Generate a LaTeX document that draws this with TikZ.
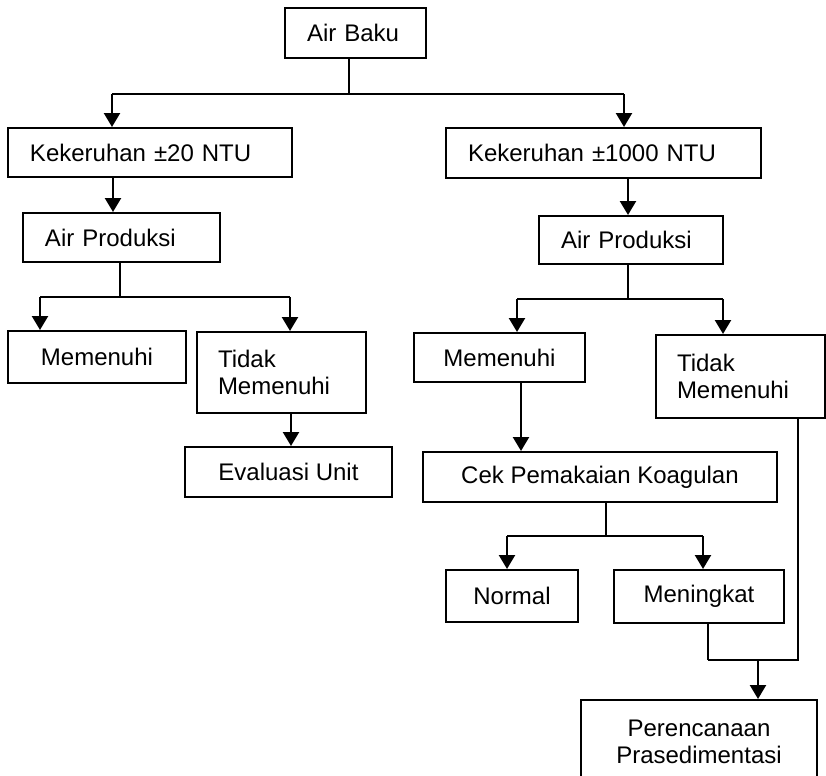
\documentclass[tikz,border=0pt]{standalone}
\usepackage{fontspec}
\setmainfont{Liberation Sans}
\usetikzlibrary{positioning, arrows.meta, calc}

\begin{document}
\begin{tikzpicture}[x=0.5pt, y=-0.5pt,
	box/.style={draw, line width=1pt, font=\fontsize{12}{13.8}\selectfont, inner ysep=0pt},
	lbox/.style={box, align=left, inner xsep=11pt},
	cbox/.style={box, align=center, inner xsep=0pt},
	link/.style={line width=0.6pt},
	flow/.style={line width=1.2pt, -{Triangle[length=7pt, width=8pt]}}]
		
		%Frame
		\useasboundingbox (0,0) rectangle (826,776);
		\clip (0,0) rectangle (826,776);
		
		%Raw water
		\node (airBaku) at(355.5,33) [lbox, text width=48.5pt, minimum height=25pt]{Air Baku};
		
		%Turbidity
		\node (kekA) at(150,152.5) [lbox, text width=120pt, minimum height=24.5pt]{Kekeruhan ±20 NTU};
		\node (kekB) at(603.5,153) [lbox, text width=135.5pt, minimum height=25pt]{Kekeruhan ±1000 NTU};
		
		%Product water
		\node (prodA) at(121.5,237.5) [lbox, text width=76.5pt, minimum height=24.5pt]{Air Produksi};
		\node (prodB) at(631,240) [lbox, text width=70pt, minimum height=24pt]{Air Produksi};
		
		%Left results
		\node (okA) at(97,357) [cbox, minimum width=89pt, minimum height=26pt]{Memenuhi};
		\node (notA) at(281.5,372.5) [lbox, inner xsep=10.5pt, text width=63.5pt, minimum height=40.5pt]{Tidak\\Memenuhi};
		\node (evalA) at(288.5,472) [cbox, minimum width=103.5pt, minimum height=25pt]{Evaluasi Unit};
		
		%Right results
		\node (okB) at(499.5,357.5) [cbox, minimum width=85.5pt, minimum height=24.5pt]{Memenuhi};
		\node (notB) at(740.5,376.5) [lbox, inner xsep=10.5pt, text width=63.5pt, minimum height=41.5pt]{Tidak\\Memenuhi};
		\node (cek) at(600,477) [cbox, minimum width=177pt, minimum height=25pt]{Cek Pemakaian Koagulan};
		\node (normal) at(512,596) [cbox, minimum width=66pt, minimum height=26pt]{Normal};
		\node (naik) at(699,596.5) [cbox, minimum width=85pt, minimum height=26.5pt]{Meningkat};
		\node (plan) at(699,742) [cbox, minimum width=118pt, minimum height=42pt]{Perencanaan\\Prasedimentasi};
		
		%Split from raw water
		\draw[link] ([xshift=32.5pt]airBaku.south west) -- ++(0,35) coordinate (fork1);
		\coordinate (kekAin) at ([xshift=52.5pt]kekA.north west);
		\coordinate (kekBin) at ([xshift=89.5pt]kekB.north west);
		\draw[link] (fork1 -| kekAin) -- (fork1 -| kekBin);
		\draw[flow] (fork1 -| kekAin) -- (kekAin);
		\draw[flow] (fork1 -| kekBin) -- (kekBin);
		
		%Turbidity to product water
		\draw[flow] ([xshift=53pt]kekA.south west) coordinate (a) -- (a |- prodA.north);
		\draw[flow] ([xshift=91.5pt]kekB.south west) coordinate (b) -- (b |- prodB.north);
		
		%Split left
		\draw[link] ([xshift=49pt]prodA.south west) -- ++(0,34) coordinate (fork2);
		\coordinate (okAin) at ([xshift=16.5pt]okA.north west);
		\coordinate (notAin) at ([xshift=47pt]notA.north west);
		\draw[link] (fork2 -| okAin) -- (fork2 -| notAin);
		\draw[flow] (fork2 -| okAin) -- (okAin);
		\draw[flow] (fork2 -| notAin) -- (notAin);
		\draw[flow] ([xshift=47.5pt]notA.south west) coordinate (c) -- (c |- evalA.north);
		
		%Split right
		\draw[link] ([xshift=45pt]prodB.south west) -- ++(0,34) coordinate (fork3);
		\coordinate (okBin) at ([xshift=52pt]okB.north west);
		\coordinate (notBin) at ([xshift=34pt]notB.north west);
		\draw[link] (fork3 -| okBin) -- (fork3 -| notBin);
		\draw[flow] (fork3 -| okBin) -- (okBin);
		\draw[flow] (fork3 -| notBin) -- (notBin);
		\draw[flow] ([xshift=54pt]okB.south west) coordinate (d) -- (d |- cek.north);
		
		%Coagulant check
		\draw[link] ([xshift=92pt]cek.south west) -- ++(0,33) coordinate (fork4);
		\coordinate (normalin) at ([xshift=31pt]normal.north west);
		\coordinate (naikin) at ([xshift=45pt]naik.north west);
		\draw[link] (fork4 -| normalin) -- (fork4 -| naikin);
		\draw[flow] (fork4 -| normalin) -- (normalin);
		\draw[flow] (fork4 -| naikin) -- (naikin);
		
		%Join to presedimentation
		\draw[link] ([xshift=47.5pt]naik.south west) -- ++(0,36) coordinate (join);
		\draw[link] ([xshift=71.5pt]notB.south west) coordinate (e) -- (e |- join) -- (join);
		\coordinate (planin) at ([xshift=89pt]plan.north west);
		\draw[flow] (join -| planin) -- (planin);
		
		\end{tikzpicture}
\end{document}
